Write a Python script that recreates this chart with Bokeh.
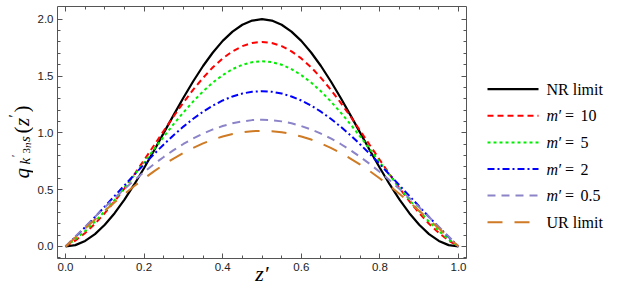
import numpy as np
from bokeh.plotting import figure
from bokeh.layouts import row
from bokeh.models import Range1d, LinearAxis, FixedTicker, CustomJSTickFormatter
from bokeh.embed import file_html
from bokeh.resources import INLINE
from bokeh.core.properties import value

# ---------------- data ----------------
z_vals = [0.0, 0.025, 0.05, 0.075, 0.1, 0.125, 0.15, 0.175, 0.2, 0.225, 0.25,
          0.275, 0.3, 0.325, 0.35, 0.375, 0.4, 0.425, 0.45, 0.475, 0.5,
          0.525, 0.55, 0.575, 0.6, 0.625, 0.65, 0.675, 0.7, 0.725, 0.75,
          0.775, 0.8, 0.825, 0.85, 0.875, 0.9, 0.925, 0.95, 0.975, 1.0]

nr_limit = [0.0, 0.012, 0.049, 0.109, 0.191, 0.293, 0.412, 0.546, 0.691, 0.843, 1.0,
            1.156, 1.309, 1.454, 1.588, 1.707, 1.809, 1.891, 1.951, 1.988, 2.0,
            1.988, 1.951, 1.891, 1.809, 1.707, 1.588, 1.454, 1.309, 1.156, 1.0,
            0.843, 0.691, 0.546, 0.412, 0.293, 0.191, 0.109, 0.049, 0.012, 0.0]

m10 = [0.0, 0.052, 0.119, 0.200, 0.294, 0.398, 0.512, 0.634, 0.760, 0.889, 1.018,
       1.145, 1.266, 1.380, 1.484, 1.577, 1.655, 1.717, 1.763, 1.791, 1.800,
       1.791, 1.763, 1.717, 1.655, 1.577, 1.484, 1.380, 1.266, 1.145, 1.018,
       0.889, 0.760, 0.634, 0.512, 0.398, 0.294, 0.200, 0.119, 0.052, 0.0]

m5 = [0.0, 0.063, 0.136, 0.219, 0.312, 0.411, 0.517, 0.627, 0.740, 0.854, 0.966,
      1.076, 1.180, 1.277, 1.365, 1.443, 1.508, 1.561, 1.599, 1.622, 1.630,
      1.622, 1.599, 1.561, 1.508, 1.443, 1.365, 1.277, 1.180, 1.076, 0.966,
      0.854, 0.740, 0.627, 0.517, 0.411, 0.312, 0.219, 0.136, 0.063, 0.0]

m2 = [0.0, 0.083, 0.170, 0.260, 0.352, 0.445, 0.538, 0.631, 0.723, 0.812, 0.898,
      0.979, 1.055, 1.124, 1.186, 1.240, 1.285, 1.320, 1.346, 1.362, 1.367,
      1.362, 1.346, 1.320, 1.285, 1.240, 1.186, 1.124, 1.055, 0.979, 0.898,
      0.812, 0.723, 0.631, 0.538, 0.445, 0.352, 0.260, 0.170, 0.083, 0.0]

m05 = [0.0, 0.088, 0.174, 0.260, 0.345, 0.427, 0.506, 0.583, 0.655, 0.724, 0.788,
       0.848, 0.902, 0.951, 0.993, 1.030, 1.060, 1.084, 1.101, 1.112, 1.115,
       1.112, 1.101, 1.084, 1.060, 1.030, 0.993, 0.951, 0.902, 0.848, 0.788,
       0.724, 0.655, 0.583, 0.506, 0.427, 0.345, 0.260, 0.174, 0.088, 0.0]

ur_limit = [0.0, 0.080, 0.159, 0.238, 0.315, 0.390, 0.462, 0.532, 0.598, 0.661, 0.720,
            0.774, 0.824, 0.868, 0.907, 0.941, 0.968, 0.990, 1.005, 1.015, 1.018,
            1.015, 1.005, 0.990, 0.968, 0.941, 0.907, 0.868, 0.824, 0.774, 0.720,
            0.661, 0.598, 0.532, 0.462, 0.390, 0.315, 0.238, 0.159, 0.080, 0.0]

series = [nr_limit, m10, m5, m2, m05, ur_limit]
legend_names = ["NR limit", "10", "5", "2", "0.5", "UR limit"]

x_ticks = [0.0, 0.2, 0.4, 0.6, 0.8, 1.0]
x_tick_labels = ["0.0", "0.2", "0.4", "0.6", "0.8", "1.0"]
y_ticks = [0.0, 0.5, 1.0, 1.5, 2.0]
y_tick_labels = ["0.0", "0.5", "1.0", "1.5", "2.0"]

# ---------------- styles ----------------
colors = ["#000000", "#ff0000", "#00ee00", "#0000ff", "#8c84c8", "#cf7a24"]
dashes = ["solid", "6 4", "3 3", "7 3 2 3", "8 6", "15 12"]
widths = [2.2, 2.0, 2.0, 2.0, 2.0, 2.0]

FRAME = "#555555"
TICKTXT = "#222222"
SERIF = "Liberation Serif"
TOTAL_H = 292

x_minor = [k * 0.05 for k in range(0, 21)]
y_minor = [k * 0.1 for k in range(-1, 21)]

# ---------------- main plot ----------------
p = figure(frame_width=409, frame_height=252,
           x_range=Range1d(-0.02036, 1.02036), y_range=Range1d(-0.1056, 2.1117),
           output_backend="svg", toolbar_location=None,
           min_border_left=24, min_border_right=8, min_border_top=6, min_border_bottom=34)
p.xgrid.visible = False
p.ygrid.visible = False
p.outline_line_color = FRAME
p.outline_line_width = 1
p.background_fill_color = "white"
p.border_fill_color = "white"

bottom = p.below[0]
left = p.left[0]
bottom.ticker = FixedTicker(ticks=x_ticks, minor_ticks=x_minor)
bottom.major_label_overrides = {t: l for t, l in zip(x_ticks, x_tick_labels)}
left.ticker = FixedTicker(ticks=y_ticks, minor_ticks=y_minor)
left.major_label_overrides = {t: l for t, l in zip(y_ticks, y_tick_labels)}

top = LinearAxis(ticker=FixedTicker(ticks=x_ticks, minor_ticks=x_minor),
                 formatter=CustomJSTickFormatter(code="return ''"))
right = LinearAxis(ticker=FixedTicker(ticks=y_ticks, minor_ticks=y_minor),
                   formatter=CustomJSTickFormatter(code="return ''"))
p.add_layout(top, "above")
p.add_layout(right, "right")

for ax in [bottom, left, top, right]:
    ax.axis_line_color = None
    ax.major_tick_line_color = FRAME
    ax.minor_tick_line_color = FRAME
    ax.major_tick_in = 5
    ax.major_tick_out = 0
    ax.minor_tick_in = 3
    ax.minor_tick_out = 0
    ax.major_label_text_font = "Liberation Sans"
    ax.major_label_text_font_size = "11.5px"
    ax.major_label_text_color = TICKTXT
    ax.major_label_standoff = 4
for ax in [top, right]:
    ax.major_label_text_font_size = "0px"
    ax.major_label_standoff = 0

bottom.axis_label = "z\u2032"
bottom.axis_label_text_font = SERIF
bottom.axis_label_text_font_size = "22px"
bottom.axis_label_text_font_style = "italic"
bottom.axis_label_text_color = "black"
bottom.axis_label_standoff = -13

for ys, c, d, w in zip(series, colors, dashes, widths):
    p.line(z_vals, ys, line_color=c, line_width=w, line_dash=d)

# ---------------- y-axis label panel (rotated, built from pieces) ----------------
YW = 33
ylab = figure(frame_width=YW, frame_height=TOTAL_H, x_range=Range1d(0, YW),
              y_range=Range1d(0, TOTAL_H), output_backend="svg", toolbar_location=None,
              min_border=0, x_axis_type=None, y_axis_type=None)
ylab.outline_line_color = None
ylab.background_fill_color = "white"
ylab.border_fill_color = "white"

ylabel_parts = [
    # text, baseline x, start y (page px from top), size, style
    ("q", 21, 172, "21px", "italic"),
    ("k", 24, 158, "15px", "italic"),
    ("\u2032", 14, 150.5, "11px", "normal"),
    ("3", 26, 147, "11px", "normal"),
    ("n", 26, 141.5, "11px", "italic"),
    ("s", 24, 135.5, "15px", "italic"),
    ("(", 21, 127, "21px", "normal"),
    ("z", 21, 119.5, "21px", "italic"),
    ("\u2032", 13, 111, "15px", "normal"),
    (")", 21, 106, "21px", "normal"),
]
for t, bx, sy, fs, st in ylabel_parts:
    ylab.text(x=[bx], y=[TOTAL_H - sy], text=[t], angle=np.pi / 2,
              text_font=value(SERIF), text_font_size=fs, text_font_style=st,
              text_align="left", text_baseline="alphabetic", text_color="black")

# ---------------- legend panel ----------------
LW = 623 - YW - (24 + 409 + 8) - 1
lg = figure(frame_width=LW, frame_height=TOTAL_H, x_range=Range1d(0, LW),
            y_range=Range1d(0, TOTAL_H), output_backend="svg", toolbar_location=None,
            min_border=0, x_axis_type=None, y_axis_type=None)
lg.outline_line_color = None
lg.background_fill_color = "white"
lg.border_fill_color = "white"

row_y = [82.7, 109.3, 135.9, 162.5, 189.1, 215.7]
for name, c, d, w, ry in zip(legend_names, colors, dashes, widths, row_y):
    yy = TOTAL_H - ry
    lg.line([13, 64], [yy, yy], line_color=c, line_width=w, line_dash=d)
    if "limit" in name:
        lg.text(x=[72], y=[yy], text=[name], text_font=value(SERIF), text_font_size="16px",
                text_baseline="middle", text_align="left", text_color="black")
    else:
        lg.text(x=[72], y=[yy], text=["m"], text_font=value(SERIF), text_font_size="16px",
                text_font_style="italic", text_baseline="middle", text_align="left",
                text_color="black")
        lg.text(x=[84], y=[yy], text=["\u2032"], text_font=value(SERIF), text_font_size="16px",
                text_baseline="middle", text_align="left", text_color="black")
        lg.text(x=[90.5], y=[yy], text=["="], text_font=value(SERIF), text_font_size="16px",
                text_baseline="middle", text_align="left", text_color="black")
        lg.text(x=[106], y=[yy], text=[name], text_font=value(SERIF), text_font_size="16px",
                text_baseline="middle", text_align="left", text_color="black")

layout = row(ylab, p, lg)
open("out.html", "w").write(file_html(layout, INLINE))
